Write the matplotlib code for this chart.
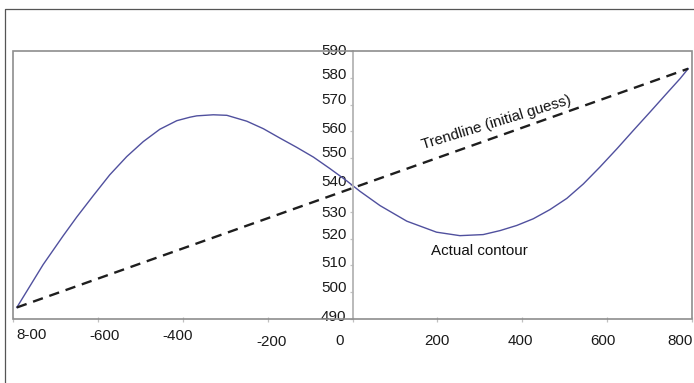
import matplotlib
matplotlib.use('Agg')
import matplotlib.pyplot as plt
import matplotlib.transforms as mtransforms
from matplotlib.lines import Line2D
from matplotlib.patches import Rectangle

# actual contour
contour_x = [-791, -729, -682, -650, -611, -572, -532, -493, -454, -414, -383, -367, -328,
             -296, -249, -210, -171, -132, -92, -53, -14, 18, 65, 128, 198, 253, 308, 348,
             387, 426, 465, 505, 544, 583, 623, 662, 701, 740, 772, 791]
contour_y = [494.3, 510.3, 521.0, 528.0, 536.0, 543.8, 550.6, 556.2, 560.8, 564.0, 565.3,
             565.8, 566.2, 566.0, 563.8, 561.0, 557.5, 554.1, 550.4, 546.1, 541.6, 537.6,
             532.3, 526.5, 522.4, 521.1, 521.5, 523.0, 524.9, 527.4, 530.8, 535.0, 540.4,
             546.7, 553.5, 560.4, 567.2, 574.1, 579.7, 583.4]

# straight trendline between the two end points
trend_x = [-791, 791]
trend_y = [494.3, 583.4]

xticks = [-800, -600, -400, -200, 0, 200, 400, 600, 800]
xtick_labels = ['8-00', '-600', '-400', '-200', '0', '200', '400', '600', '800']
yticks = [490, 500, 510, 520, 530, 540, 550, 560, 570, 580, 590]

plt.rcParams['font.family'] = ['Liberation Sans', 'DejaVu Sans']
fs = 10.9

fig = plt.figure(figsize=(6.94, 3.83), dpi=100)
ax = fig.add_axes([13/694, 64/383, 679/694, 268/383])

ax.plot(contour_x, contour_y, color='#50509e', lw=1.0, solid_joinstyle='round')
ax.plot(trend_x, trend_y, color='#1e1e1e', lw=1.7, dashes=(4.4, 2.9))

ax.set_xlim(-800, 800)
ax.set_ylim(490, 590)

for s in ['top', 'right', 'bottom']:
    ax.spines[s].set_visible(False)
ax.spines['left'].set_position(('data', 0))
ax.spines['left'].set_color('#b4b4b4')
ax.spines['left'].set_linewidth(1.3)
ax.add_patch(Rectangle((0, 0), 1, 1, transform=ax.transAxes, fill=False,
                       ec='#8e8e8e', lw=1.2, clip_on=False, zorder=3))

ax.set_xticks(xticks)
ax.set_xticklabels(xtick_labels, fontsize=fs, color='#1a1a1a')
ax.set_yticks(yticks)
ax.set_yticklabels([str(v) for v in yticks], fontsize=fs, color='#1a1a1a')
ax.tick_params(axis='x', direction='inout', length=3.6, width=0.9, color='#c0c0c0', pad=14.0)
ax.tick_params(axis='y', direction='out', length=2.2, width=0.9, color='#c0c0c0', pad=2.2)

# the original labels sit a little off their ticks
x_shift = [(19, -6), (7, -4.5), (-5, -4.5), (4, 1.5), (-13, 0), (0, 0.5), (-2, 0.5), (-4, 0.5), (-12, 0.5)]
for lab, (dx, dy) in zip(ax.get_xticklabels(), x_shift):
    lab.set_va('center')
    lab.set_transform(lab.get_transform() +
                      mtransforms.ScaledTranslation(dx/100, -dy/100, fig.dpi_scale_trans))
y_shift = [-2.4, -4.2, -2.5, -4, 0.8, -2.5, -5.2, -2.7, -4.2, -2.5, 0.1]
for lab, dy in zip(ax.get_yticklabels(), y_shift):
    lab.set_va('center')
    lab.set_transform(lab.get_transform() +
                      mtransforms.ScaledTranslation(0, -dy/100, fig.dpi_scale_trans))

ax.text(338, 563.4, 'Trendline (initial guess)', fontsize=fs, rotation=17,
        ha='center', va='center', color='#111111')
ax.text(300, 515.5, 'Actual contour', fontsize=fs, ha='center', va='center', color='#111111')

# outer frame, cut off by the image edges on the right and bottom
fig.add_artist(Line2D([5/694, 5/694, 1.02], [-0.02, 1 - 8.5/383, 1 - 8.5/383],
                      transform=fig.transFigure, color='#555555', lw=0.9))

fig.savefig('out.png', dpi=100)
